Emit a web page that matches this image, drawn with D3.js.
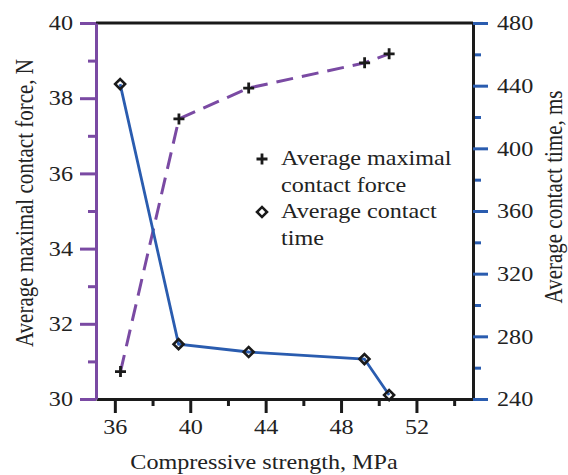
<!DOCTYPE html>
<html>
<head>
<meta charset="utf-8">
<script src="https://cdn.jsdelivr.net/npm/d3@7"></script>
<style>
  body { margin: 0; background: #fff; }
  text { font-family: "Liberation Serif", "Times New Roman", serif; fill: #222; }
</style>
</head>
<body>
<div id="chart"></div>
<script>
// data
var strength = [36.3, 39.4, 43.1, 49.25, 50.55];
var force = [30.73, 37.45, 38.27, 38.94, 39.18];
var strengthTime = [36.28, 39.38, 43.1, 49.24, 50.55];
var contactTime = [441, 275, 270, 265.5, 242.5];
var xTicks = [36, 40, 44, 48, 52];
var forceTicks = [30, 32, 34, 36, 38, 40];
var timeTicks = [240, 280, 320, 360, 400, 440, 480];

var purple = "#7a4aa3", blue = "#2a5caf";
var sx = 1.15; // the reference type is a bit wider than it is tall

var margin = {top: 23, right: 95, bottom: 76, left: 96},
    width = 568 - margin.left - margin.right,
    height = 475 - margin.top - margin.bottom;

var svg = d3.select("#chart").append("svg")
    .attr("width", 568)
    .attr("height", 475)
  .append("g")
    .attr("transform", "translate(" + margin.left + "," + margin.top + ")");

var x = d3.scaleLinear().domain([35, 55]).range([0, width]);
var yF = d3.scaleLinear().domain([30, 40]).range([height, 0]);
var yT = d3.scaleLinear().domain([240, 480]).range([height, 0]);

function stretch(sel) {
  sel.each(function() {
    var t = d3.select(this);
    var tx = +t.attr("x") || 0, ty = +t.attr("y") || 0;
    t.attr("x", 0).attr("y", 0)
     .attr("transform", "translate(" + tx + "," + ty + ") scale(" + sx + ",1)");
  });
}

// frame top
svg.append("line").attr("x1", 0).attr("x2", width).attr("y1", 0).attr("y2", 0)
    .attr("stroke", "#1a1a1a").attr("stroke-width", 3);

function minor(g, axis) {
  g.call(axis.tickFormat("")).select(".domain").remove();
}

var gx = svg.append("g").attr("transform", "translate(0," + height + ")");
gx.append("g").call(minor, d3.axisBottom(x).tickValues(d3.range(38, 55, 4)).tickSize(7));
gx.append("g").call(d3.axisBottom(x).tickValues(xTicks).tickSize(14).tickPadding(6).tickSizeOuter(0));
gx.selectAll("line").attr("stroke", "#1a1a1a").attr("stroke-width", 3);
gx.select(".domain").attr("stroke", "#1a1a1a").attr("stroke-width", 3);
gx.selectAll("text").style("font-size", "21px").call(stretch);

var gl = svg.append("g");
gl.append("g").call(minor, d3.axisLeft(yF).tickValues(d3.range(31, 40, 2)).tickSize(8));
gl.append("g").call(d3.axisLeft(yF).tickValues(forceTicks).tickSize(16).tickPadding(7).tickSizeOuter(0));
gl.selectAll("line").attr("stroke", purple).attr("stroke-width", 3);
gl.select(".domain").attr("stroke", purple).attr("stroke-width", 3);
gl.selectAll("text").style("font-size", "21px").call(stretch);

var gr = svg.append("g").attr("transform", "translate(" + width + ",0)");
gr.append("g").call(minor, d3.axisRight(yT).tickValues(d3.range(260, 480, 40)).tickSize(8));
gr.append("g").call(d3.axisRight(yT).tickValues(timeTicks).tickSize(15).tickPadding(9).tickSizeOuter(0));
gr.selectAll("line").attr("stroke", blue).attr("stroke-width", 3);
gr.select(".domain").attr("stroke", "#1a1a1a").attr("stroke-width", 3);
gr.selectAll("text").style("font-size", "21px").call(stretch);

// axis titles
svg.append("text")
    .attr("transform", "translate(-63," + (height / 2 - 8) + ") rotate(-90) scale(1," + sx + ")")
    .attr("text-anchor", "middle")
    .style("font-size", "21px")
    .text("Average maximal contact force, N");

svg.append("text")
    .attr("transform", "translate(" + (width + 89) + "," + (height / 2 - 14) + ") rotate(-90) scale(1," + sx + ")")
    .attr("text-anchor", "middle")
    .style("font-size", "21px")
    .text("Average contact time, ms");

svg.append("text")
    .attr("transform", "translate(168," + (height + 70) + ") scale(" + sx + ",1)")
    .attr("text-anchor", "middle")
    .style("font-size", "21px")
    .text("Compressive strength, MPa");

// lines
var forceData = strength.map(function(d, i) { return {x: d, y: force[i]}; });
var timeData = strengthTime.map(function(d, i) { return {x: d, y: contactTime[i]}; });

svg.append("path")
    .datum(forceData)
    .attr("fill", "none")
    .attr("stroke", purple)
    .attr("stroke-width", 3)
    .attr("stroke-dasharray", "17,9")
    .attr("d", d3.line().x(function(d) { return x(d.x); }).y(function(d) { return yF(d.y); }));

svg.append("path")
    .datum(timeData)
    .attr("fill", "none")
    .attr("stroke", blue)
    .attr("stroke-width", 2.8)
    .attr("d", d3.line().x(function(d) { return x(d.x); }).y(function(d) { return yT(d.y); }));

var diamond = d3.symbol().type(d3.symbolSquare).size(50);

function plus(sel) {
  sel.append("path").attr("d", "M-5.5,0H5.5M0,-5.5V5.5")
      .attr("stroke", "#1a1a1a").attr("stroke-width", 2.8).attr("fill", "none");
}
function diam(sel, fill) {
  sel.append("path").attr("d", diamond).attr("transform", "rotate(45)")
      .attr("stroke", "#1a1a1a").attr("stroke-width", 2.6).attr("fill", fill);
}

svg.selectAll(".cross").data(forceData).enter().append("g")
    .attr("class", "cross")
    .attr("transform", function(d) { return "translate(" + x(d.x) + "," + yF(d.y) + ")"; })
    .call(plus);

svg.selectAll(".diam").data(timeData).enter().append("g")
    .attr("class", "diam")
    .attr("transform", function(d) { return "translate(" + x(d.x) + "," + yT(d.y) + ")"; })
    .call(diam, "none");

// legend
var lg = svg.append("g").attr("transform", "translate(" + (262 - margin.left) + "," + (159 - margin.top) + ")");
lg.append("g").call(plus);
lg.append("g").attr("transform", "translate(0,53)").call(diam, "#fff");
var legendText = [["Average maximal", 6], ["contact force", 33], ["Average contact", 59], ["time", 86]];
lg.selectAll(".lt").data(legendText).enter().append("text")
    .attr("transform", function(d) { return "translate(19," + d[1] + ") scale(" + sx + ",1)"; })
    .style("font-size", "21px")
    .text(function(d) { return d[0]; });
</script>
</body>
</html>
